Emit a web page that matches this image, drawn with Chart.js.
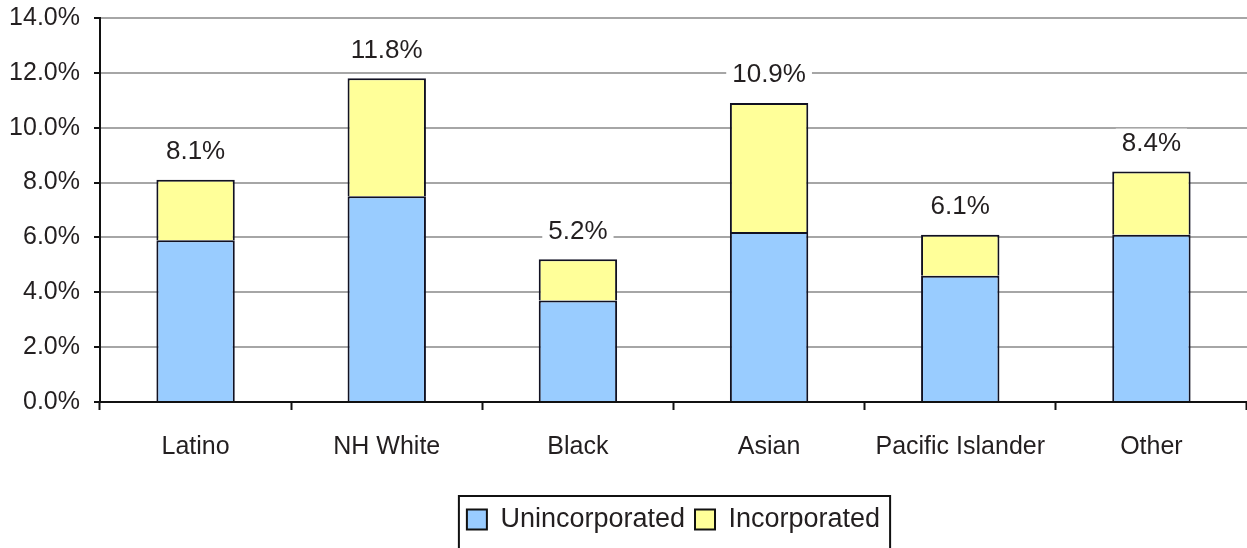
<!DOCTYPE html>
<html>
<head>
<meta charset="utf-8">
<script src="https://cdn.jsdelivr.net/npm/chart.js@4/dist/chart.umd.min.js"></script>
<style>
  html, body { margin: 0; padding: 0; background: #fff; }
  #wrap { width: 1247px; height: 548px; }
</style>
</head>
<body>
<div id="wrap"><canvas id="c" width="1247" height="548"></canvas></div>
<script>
const categories = ['Latino', 'NH White', 'Black', 'Asian', 'Pacific Islander', 'Other'];
const unincorporated = [5.9, 7.5, 3.7, 6.2, 4.6, 6.1];
const incorporated = [2.2, 4.3, 1.5, 4.7, 1.5, 2.3];
const totalLabels = ['8.1%', '11.8%', '5.2%', '10.9%', '6.1%', '8.4%'];
const seriesNames = ['Unincorporated', 'Incorporated'];

const FONT = "'Liberation Sans', 'DejaVu Sans', sans-serif";
const TEXT = '#231f20';

const totalsPlugin = {
  id: 'totals',
  afterDatasetsDraw(chart) {
    const ctx = chart.ctx;
    const meta = chart.getDatasetMeta(1);
    const y = chart.scales.y;
    ctx.save();
    ctx.font = '26px ' + FONT;
    ctx.textAlign = 'center';
    ctx.textBaseline = 'middle';
    meta.data.forEach((bar, i) => {
      const total = unincorporated[i] + incorporated[i];
      const py = y.getPixelForValue(total) - 28;
      const w = ctx.measureText(totalLabels[i]).width + 12;
      ctx.fillStyle = '#fff';
      ctx.fillRect(bar.x - w / 2, py - 15, w, 30);
      ctx.fillStyle = TEXT;
      ctx.fillText(totalLabels[i], bar.x, py);
    });
    ctx.restore();
  }
};

const legendBoxPlugin = {
  id: 'legendBox',
  afterDraw(chart) {
    const lg = chart.legend;
    if (!lg || !lg.legendHitBoxes || !lg.legendHitBoxes.length) return;
    const boxes = lg.legendHitBoxes;
    const left = boxes[0].left - 8;
    const last = boxes[boxes.length - 1];
    const right = last.left + last.width + 10;
    const ctx = chart.ctx;
    ctx.save();
    ctx.strokeStyle = '#111';
    ctx.lineWidth = 2;
    ctx.beginPath();
    ctx.moveTo(left, 560);
    ctx.lineTo(left, lg.top);
    ctx.lineTo(right, lg.top);
    ctx.lineTo(right, 560);
    ctx.stroke();
    ctx.restore();
  }
};

new Chart(document.getElementById('c'), {
  type: 'bar',
  data: {
    labels: categories,
    datasets: [
      {
        label: seriesNames[0],
        data: unincorporated,
        backgroundColor: '#99ccff',
        borderColor: '#111122',
        borderWidth: 2,
        borderSkipped: 'bottom',
        categoryPercentage: 1,
        barPercentage: 0.41
      },
      {
        label: seriesNames[1],
        data: incorporated,
        backgroundColor: '#ffff99',
        borderColor: '#111122',
        borderWidth: 2,
        borderSkipped: 'bottom',
        categoryPercentage: 1,
        barPercentage: 0.41
      }
    ]
  },
  options: {
    responsive: false,
    animation: false,
    devicePixelRatio: 1,
    layout: { padding: { top: 18, right: 0, left: 0, bottom: 5 } },
    plugins: {
      tooltip: { enabled: false },
      legend: {
        position: 'bottom',
        fullSize: false,
        labels: {
          font: { family: FONT, size: 27 },
          color: TEXT,
          boxWidth: 20,
          boxHeight: 20,
          padding: 10,
          generateLabels(chart) {
            return chart.data.datasets.map((ds, i) => ({
              text: ds.label,
              fillStyle: ds.backgroundColor,
              strokeStyle: '#111',
              lineWidth: 2,
              datasetIndex: i,
              fontColor: TEXT
            }));
          }
        }
      }
    },
    scales: {
      x: {
        stacked: true,
        grid: {
          offset: true,
          drawOnChartArea: false,
          drawTicks: true,
          tickLength: 8,
          tickColor: '#111',
          tickWidth: 2
        },
        border: { color: '#111', width: 2 },
        ticks: {
          font: { family: FONT, size: 25 },
          color: TEXT,
          padding: 22,
          maxRotation: 0,
          autoSkip: false
        },
        afterFit(scale) { scale.height = 94; }
      },
      y: {
        stacked: true,
        min: 0,
        max: 14,
        grid: {
          color: '#a6a6a6',
          lineWidth: 2,
          tickColor: '#111',
          tickLength: 6,
          tickWidth: 2
        },
        border: { color: '#111', width: 2 },
        ticks: {
          stepSize: 2,
          font: { family: FONT, size: 25 },
          color: TEXT,
          padding: 14,
          callback: v => v.toFixed(1) + '%'
        },
        afterFit(scale) {
          scale.width = 100;
          scale.paddingTop = 0;
          scale.paddingBottom = 0;
        }
      }
    }
  },
  plugins: [totalsPlugin, legendBoxPlugin]
});
</script>
</body>
</html>
